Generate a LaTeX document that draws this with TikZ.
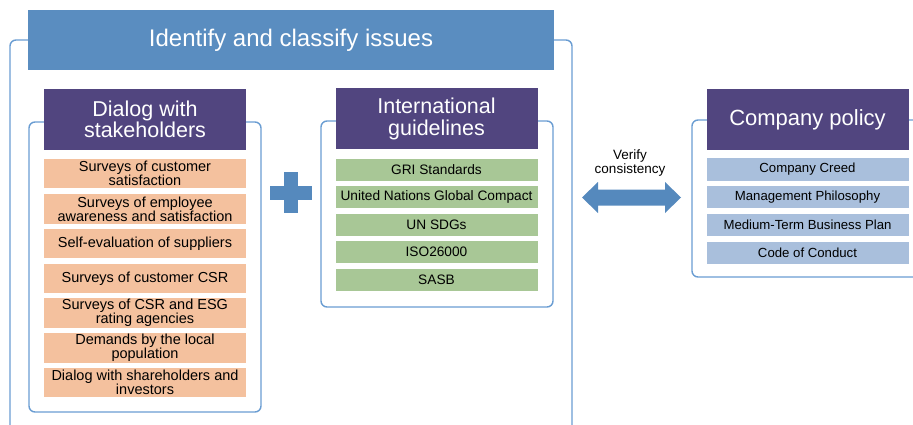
\documentclass[tikz,border=0pt]{standalone}
\usepackage{fontspec}
\setmainfont{Liberation Sans}
\definecolor{bannerc}{HTML}{5A8DC0}
\definecolor{purp}{HTML}{51457F}
\definecolor{orng}{HTML}{F4C19E}
\definecolor{grn}{HTML}{A8C796}
\definecolor{lblue}{HTML}{A9BFDC}
\definecolor{framec}{HTML}{6A9DD2}
\definecolor{symc}{HTML}{5589BD}
\begin{document}
\begin{tikzpicture}[x=1pt,y=-1pt,
  frame/.style={draw=framec, line width=1.4pt, rounded corners=6pt},
  hdr/.style={fill=purp, text=white, minimum width=202pt, minimum height=61pt, inner sep=0pt, align=center, font=\fontsize{21.5}{21.5}\selectfont},
  oitem/.style={fill=orng, minimum width=202pt, minimum height=29.5pt, inner sep=0pt, align=center, font=\fontsize{14.5}{14.2}\selectfont},
  gitem/.style={fill=grn, minimum width=202pt, minimum height=22pt, inner sep=0pt, align=center, font=\fontsize{13.7}{14}\selectfont},
  bitem/.style={fill=lblue, minimum width=202pt, minimum height=22pt, inner sep=0pt, align=center, font=\fontsize{13.2}{14}\selectfont},
  symfill/.style={fill=symc}
]
\useasboundingbox (0,0) rectangle (913,425);
\begin{scope}
\clip (0,0) rectangle (913,425);
% outer frame
\draw[frame] (30,40) -- (10,40) -- (10,440);
\draw[frame] (550,40) -- (572,40) -- (572,440);
% inner frames
\draw[frame] (29,122) rectangle (261,412);
\draw[frame] (321,121) rectangle (553,307);
\draw[frame] (692,120) rectangle (940,277);
% banner
\node[fill=bannerc, text=white, minimum width=526pt, minimum height=60pt, inner sep=0pt, font=\fontsize{24}{24}\selectfont] (banner) at (291,40) {Identify and classify issues};
% headers
\node[hdr] (dlg) at (145,119.5) {Dialog with\\stakeholders};
\node[hdr] (intl) at (436.5,119) {International\\guidelines};
\node[hdr, font=\fontsize{22}{22}\selectfont] (cpol) at (807.5,119.5) {Company policy};
% dialog items
\node[oitem] (d1) at (145,173.5) {Surveys of customer\\satisfaction};
\node[oitem] (d2) at (145,209) {Surveys of employee\\awareness and satisfaction};
\node[oitem] (d3) at (145,243.5) {Self-evaluation of suppliers};
\node[oitem] (d4) at (145,278.5) {Surveys of customer CSR};
\node[oitem] (d5) at (145,313) {Surveys of CSR and ESG\\rating agencies};
\node[oitem] (d6) at (145,348) {Demands by the local\\population};
\node[oitem] (d7) at (145,382.5) {Dialog with shareholders and\\investors};
% guideline items
\node[gitem] (g1) at (436.5,170) {GRI Standards};
\node[gitem] (g2) at (436.5,197) {United Nations Global Compact};
\node[gitem] (g3) at (436.5,225) {UN SDGs};
\node[gitem] (g4) at (436.5,252) {ISO26000};
\node[gitem] (g5) at (436.5,280) {SASB};
% policy items
\node[bitem] (p1) at (807.5,169.5) {Company Creed};
\node[bitem] (p2) at (807.5,197) {Management Philosophy};
\node[bitem] (p3) at (807.5,225) {Medium-Term Business Plan};
\node[bitem] (p4) at (807.5,252.5) {Code of Conduct};
% plus sign
\fill[symfill] (270,185.5) rectangle (312,199.5);
\fill[symfill] (284,172) rectangle (298,213);
% double arrow
\fill[symfill] (582,197.5) -- (598,182) -- (598,189.5) -- (665,189.5) -- (665,182) -- (681,197.5)
  -- (665,213) -- (665,205.5) -- (598,205.5) -- (598,213) -- cycle;
\node[align=center, inner sep=0pt, font=\fontsize{13.5}{14.5}\selectfont] (verify) at (630,163) {Verify\\consistency};
\end{scope}
\end{tikzpicture}
\end{document}
